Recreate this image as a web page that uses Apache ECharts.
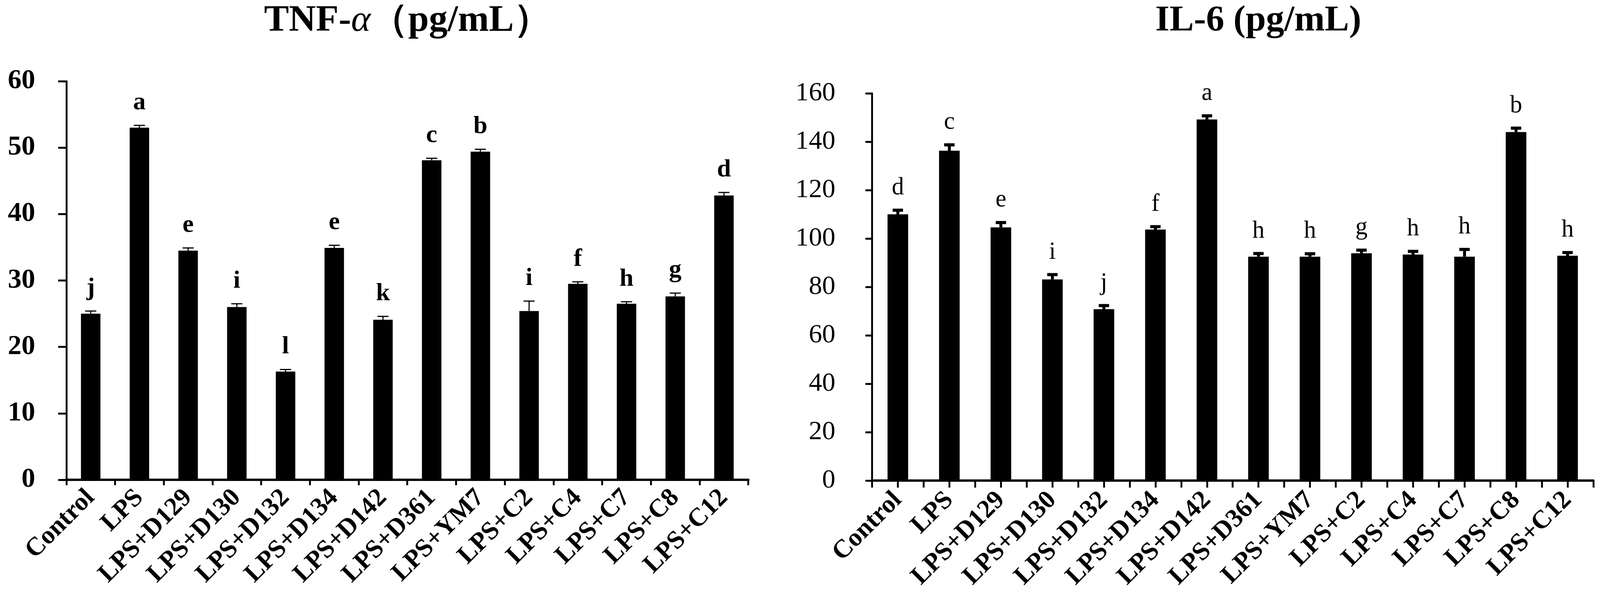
<!DOCTYPE html>
<html>
<head>
<meta charset="utf-8">
<script src="https://cdn.jsdelivr.net/npm/echarts@6/dist/echarts.min.js"></script>
<style>
html,body{margin:0;padding:0;background:#fff;overflow:hidden}
#main{width:100vw;height:100vh}
</style>
</head>
<body>
<div id="main"></div>
<script>
// groups shared by both panels
var groups = ['Control','LPS','LPS+D129','LPS+D130','LPS+D132','LPS+D134','LPS+D142',
              'LPS+D361','LPS+YM7','LPS+C2','LPS+C4','LPS+C7','LPS+C8','LPS+C12'];

// TNF-alpha (pg/mL)
var tnfMean = [25.0, 53.0, 34.5, 26.0, 16.3, 34.9, 24.1, 48.1, 49.4, 25.4, 29.5, 26.5, 27.6, 42.8];
var tnfErr  = [0.4, 0.35, 0.4, 0.5, 0.3, 0.4, 0.5, 0.3, 0.35, 1.5, 0.3, 0.3, 0.5, 0.45];
var tnfSig  = ['j','a','e','i','l','e','k','c','b','i','f','h','g','d'];

// IL-6 (pg/mL)
var il6Mean = [110.0, 136.3, 104.6, 83.1, 70.8, 103.7, 149.2, 92.5, 92.5, 93.9, 93.4, 92.5, 144.0, 92.9];
var il6Err  = [1.7, 2.4, 2.0, 2.0, 1.5, 1.2, 1.5, 1.3, 1.2, 1.3, 1.3, 3.0, 1.6, 1.3];
var il6Sig  = ['d','c','e','i','j','f','a','h','h','g','h','h','b','h'];

var serif = 'Liberation Serif';

var myChart = echarts.init(document.getElementById('main'));
// layout was measured on a 4317x1519 picture, scale to the real window
var sx = myChart.getWidth() / 4317, sy = myChart.getHeight() / 1519;
function X(v) { return v * sx; }
function Y(v) { return v * sy; }
function F(v) { return Math.round(v * (sx + sy) / 2 * 10) / 10; }

function errSeries(xi, yi, mean, err, sig, opt) {
	return {
		type: 'custom',
		xAxisIndex: xi,
		yAxisIndex: yi,
		silent: true,
		z: 3,
		data: mean.map(function (v, i) { return [i, v, v + err[i]]; }),
		renderItem: function (params, api) {
			var base = api.coord([api.value(0), api.value(1)]);
			var top = api.coord([api.value(0), api.value(2)]);
			var hw = X(opt.cap) / 2;
			return {
				type: 'group',
				children: [
					{type: 'line', shape: {x1: base[0], y1: base[1], x2: top[0], y2: top[1]},
					 style: {stroke: '#000', lineWidth: X(opt.lw)}},
					{type: 'line', shape: {x1: top[0] - hw, y1: top[1], x2: top[0] + hw, y2: top[1]},
					 style: {stroke: '#000', lineWidth: Y(opt.lw)}},
					{type: 'text', x: top[0], y: top[1] - Y(opt.gap),
					 style: {text: sig[params.dataIndex], fill: '#000',
					         font: opt.weight + ' ' + F(opt.size) + 'px "Liberation Serif"',
					         align: 'center', verticalAlign: 'bottom'}}
				]
			};
		}
	};
}

var option = {
	backgroundColor: '#fff',
	animation: false,
	graphic: [
		{type: 'text', x: X(1100), y: Y(54),
		 style: {text: '{b|TNF-}{i|α}{b|（pg/mL）}', align: 'center', verticalAlign: 'middle',
		         rich: {
		             b: {fontFamily: serif, fontWeight: 'bold', fontSize: F(98), fill: '#000'},
		             i: {fontFamily: serif, fontStyle: 'italic', fontSize: F(98), fill: '#000'}
		         }}},
		{type: 'text', x: X(3395), y: Y(54),
		 style: {text: 'IL-6 (pg/mL)', align: 'center', verticalAlign: 'middle',
		         font: 'bold ' + F(96) + 'px "Liberation Serif"', fill: '#000'}}
	],
	grid: [
		{left: X(179), top: Y(208), width: X(1840), height: Y(1021)},
		{left: X(2353), top: Y(239), width: X(1946), height: Y(992)}
	],
	xAxis: [
		{
			type: 'category', gridIndex: 0, data: groups,
			axisLine: {lineStyle: {color: '#000', width: Y(6)}},
			axisTick: {show: true, length: Y(14), lineStyle: {color: '#000', width: X(5)}},
			axisLabel: {rotate: 45, interval: 0, margin: Y(36), color: '#000',
			            fontFamily: serif, fontWeight: 'bold', fontSize: F(68)}
		},
		{
			type: 'category', gridIndex: 1, data: groups, position: 'bottom',
			axisLine: {lineStyle: {color: '#000', width: Y(6)}},
			axisTick: {show: false},
			axisLabel: {rotate: 45, interval: 0, margin: Y(40), color: '#000',
			            fontFamily: serif, fontWeight: 'bold', fontSize: F(68)}
		},
		{
			// half-step ticks under the IL-6 panel
			type: 'category', gridIndex: 1, position: 'bottom',
			data: groups.concat(groups).map(function () { return ''; }),
			axisLine: {show: false},
			axisTick: {show: true, length: Y(18), lineStyle: {color: '#000', width: X(5)}},
			axisLabel: {show: false}
		}
	],
	yAxis: [
		{
			type: 'value', gridIndex: 0, min: 0, max: 60, interval: 10,
			splitLine: {show: false},
			axisLine: {show: true, lineStyle: {color: '#000', width: X(5)}},
			axisTick: {show: true, length: X(22), lineStyle: {color: '#000', width: Y(5)}},
			axisLabel: {margin: X(84), color: '#000', fontFamily: serif, fontWeight: 'bold', fontSize: F(72)}
		},
		{
			type: 'value', gridIndex: 1, min: 0, max: 160, interval: 20,
			splitLine: {show: false},
			axisLine: {show: true, lineStyle: {color: '#000', width: X(5)}},
			axisTick: {show: true, length: X(18), lineStyle: {color: '#000', width: Y(5)}},
			axisLabel: {margin: X(99), color: '#000', fontFamily: serif, fontSize: F(70)}
		}
	],
	series: [
		{type: 'bar', xAxisIndex: 0, yAxisIndex: 0, data: tnfMean, barWidth: '40%',
		 itemStyle: {color: '#000'}, silent: true},
		errSeries(0, 0, tnfMean, tnfErr, tnfSig, {lw: 3, cap: 30, gap: 26, size: 66, weight: 'bold'}),
		{type: 'bar', xAxisIndex: 1, yAxisIndex: 1, data: il6Mean, barWidth: '40%',
		 itemStyle: {color: '#000'}, silent: true},
		errSeries(1, 1, il6Mean, il6Err, il6Sig, {lw: 8, cap: 28, gap: 26, size: 64, weight: 'normal'})
	]
};
myChart.setOption(option);
</script>
</body>
</html>
